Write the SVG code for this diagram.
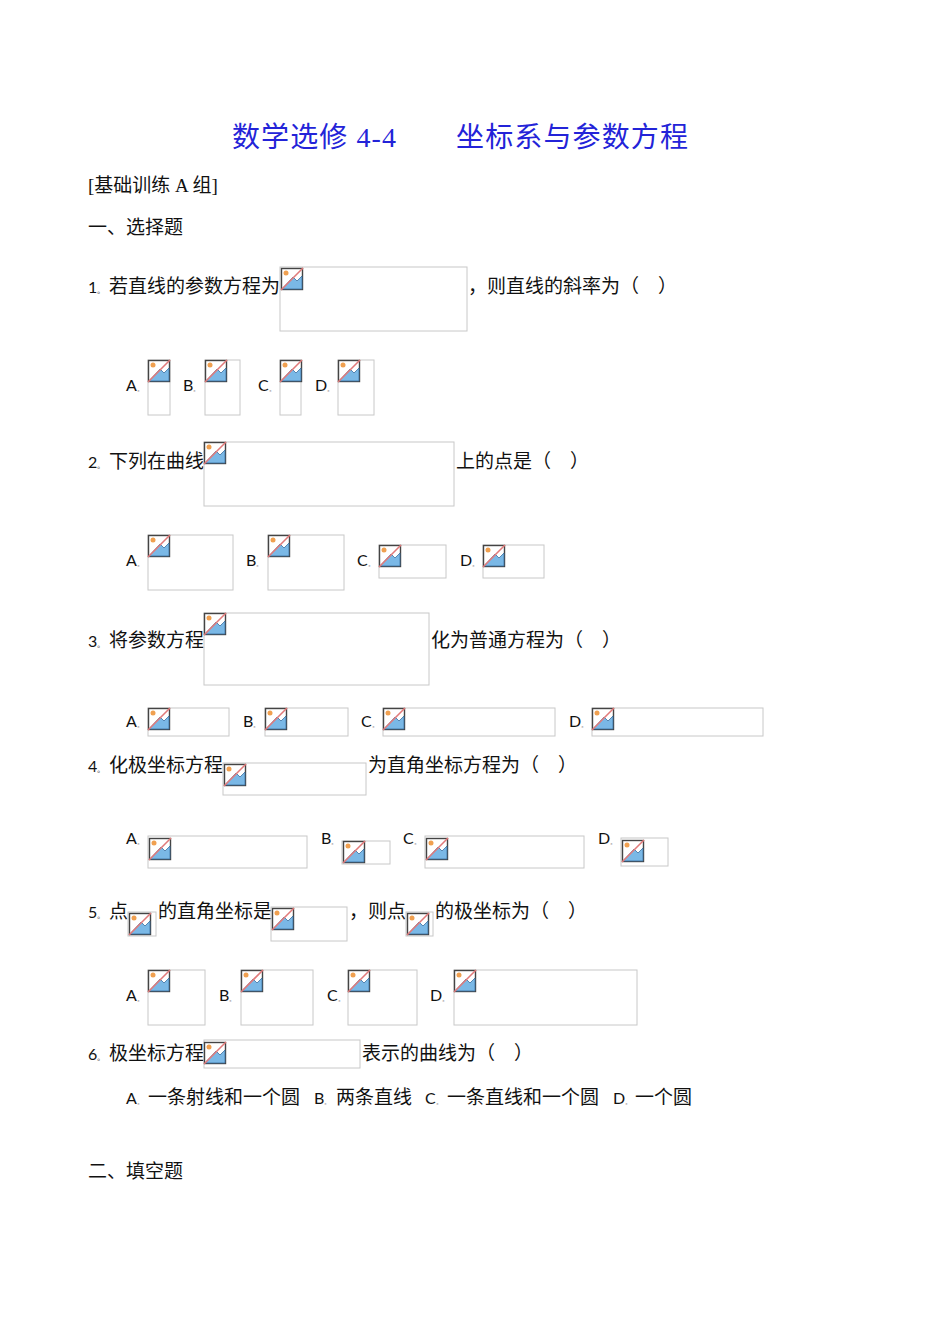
<svg xmlns="http://www.w3.org/2000/svg" width="950" height="1342" viewBox="0 0 950 1342">
<style>
.t{font-family:"Liberation Serif","Noto Sans CJK SC",serif;font-size:19px;fill:#111}
.l{font-family:Lato,"Liberation Sans",sans-serif;font-size:16px;fill:#111}
.s{font-size:7px}
.b{fill:none;stroke:#c8c8c8;stroke-width:1}
.h{font-family:"Liberation Serif","Noto Sans CJK SC",serif;font-size:28px;fill:#2323d8}
</style>
<defs>
<symbol id="ic" viewBox="0 0 22 22" overflow="visible">
<rect x="0.5" y="0.5" width="21" height="21" fill="#fff" stroke="#444" stroke-width="1.4"/>
<path d="M1 21 L12 9 L16 13 L21 8 L21 21 Z" fill="#7ab8e6" stroke="#3a6fa0" stroke-width="0.8"/>
<circle cx="5" cy="5" r="2.5" fill="#f0a050"/>
<line x1="0" y1="22" x2="22" y2="0" stroke="#e07a7a" stroke-width="1.6"/>
</symbol>
</defs>
<rect width="950" height="1342" fill="#fff"/>
<g id="title">
<text class="h" x="232" y="147" textLength="164">数学选修 4-4</text>
<text class="h" x="456" y="147" textLength="232">坐标系与参数方程</text>
</g>
<text class="t" x="88" y="192">[基础训练 A 组]</text>
<text class="t" x="88" y="234">一、选择题</text>

<g id="q1">
<text class="t" x="88" y="293"><tspan class="l">1</tspan><tspan class="s">。</tspan> 若直线的参数方程为</text>
<rect class="b" x="280" y="267" width="187" height="64"/><use href="#ic" x="281" y="268" width="22" height="22"/>
<text class="t" x="468" y="293">，则直线的斜率为（　）</text>
<text class="l" x="126" y="391">A<tspan class="s">。</tspan></text><rect class="b" x="148" y="360" width="22" height="55"/><use href="#ic" x="148" y="360" width="22" height="22"/>
<text class="l" x="183" y="391">B<tspan class="s">。</tspan></text><rect class="b" x="205" y="360" width="35" height="55"/><use href="#ic" x="205" y="360" width="22" height="22"/>
<text class="l" x="258" y="391">C<tspan class="s">。</tspan></text><rect class="b" x="280" y="360" width="21" height="55"/><use href="#ic" x="280" y="360" width="22" height="22"/>
<text class="l" x="315" y="391">D<tspan class="s">。</tspan></text><rect class="b" x="338" y="360" width="36" height="55"/><use href="#ic" x="338" y="360" width="22" height="22"/>
</g>

<g id="q2">
<text class="t" x="88" y="468"><tspan class="l">2</tspan><tspan class="s">。</tspan> 下列在曲线</text>
<rect class="b" x="204" y="442" width="250" height="64"/><use href="#ic" x="204" y="442" width="22" height="22"/>
<text class="t" x="456" y="468">上的点是（　）</text>
<text class="l" x="126" y="566">A<tspan class="s">。</tspan></text><rect class="b" x="148" y="535" width="85" height="55"/><use href="#ic" x="148" y="535" width="22" height="22"/>
<text class="l" x="246" y="566">B<tspan class="s">。</tspan></text><rect class="b" x="268" y="535" width="76" height="55"/><use href="#ic" x="268" y="535" width="22" height="22"/>
<text class="l" x="357" y="566">C<tspan class="s">。</tspan></text><rect class="b" x="379" y="545" width="67" height="33"/><use href="#ic" x="379" y="545" width="22" height="22"/>
<text class="l" x="460" y="566">D<tspan class="s">。</tspan></text><rect class="b" x="483" y="545" width="61" height="33"/><use href="#ic" x="483" y="545" width="22" height="22"/>
</g>

<g id="q3">
<text class="t" x="88" y="647"><tspan class="l">3</tspan><tspan class="s">。</tspan> 将参数方程</text>
<rect class="b" x="204" y="613" width="225" height="72"/><use href="#ic" x="204" y="613" width="22" height="22"/>
<text class="t" x="431" y="647">化为普通方程为（　）</text>
<text class="l" x="126" y="727">A<tspan class="s">。</tspan></text><rect class="b" x="148" y="708" width="81" height="28"/><use href="#ic" x="148" y="708" width="22" height="22"/>
<text class="l" x="243" y="727">B<tspan class="s">。</tspan></text><rect class="b" x="265" y="708" width="83" height="28"/><use href="#ic" x="265" y="708" width="22" height="22"/>
<text class="l" x="361" y="727">C<tspan class="s">。</tspan></text><rect class="b" x="383" y="708" width="172" height="28"/><use href="#ic" x="383" y="708" width="22" height="22"/>
<text class="l" x="569" y="727">D<tspan class="s">。</tspan></text><rect class="b" x="592" y="708" width="171" height="28"/><use href="#ic" x="592" y="708" width="22" height="22"/>
</g>

<g id="q4">
<text class="t" x="88" y="772"><tspan class="l">4</tspan><tspan class="s">。</tspan> 化极坐标方程</text>
<rect class="b" x="223" y="763" width="143" height="32"/><use href="#ic" x="224" y="764" width="22" height="22"/>
<text class="t" x="368" y="772">为直角坐标方程为（　）</text>
<text class="l" x="126" y="844">A<tspan class="s">。</tspan></text><rect class="b" x="148" y="836" width="159" height="32"/><use href="#ic" x="149" y="838" width="22" height="22"/>
<text class="l" x="321" y="844">B<tspan class="s">。</tspan></text><rect class="b" x="342" y="841" width="48" height="23"/><use href="#ic" x="343" y="841" width="22" height="22"/>
<text class="l" x="403" y="844">C<tspan class="s">。</tspan></text><rect class="b" x="425" y="836" width="159" height="32"/><use href="#ic" x="426" y="838" width="22" height="22"/>
<text class="l" x="598" y="844">D<tspan class="s">。</tspan></text><rect class="b" x="621" y="838" width="47" height="28"/><use href="#ic" x="622" y="840" width="22" height="22"/>
</g>

<g id="q5">
<text class="t" x="88" y="918"><tspan class="l">5</tspan><tspan class="s">。</tspan> 点</text>
<rect class="b" x="128" y="912" width="28" height="24"/><use href="#ic" x="129" y="913" width="22" height="22"/>
<text class="t" x="158" y="918">的直角坐标是</text>
<rect class="b" x="271" y="907" width="76" height="34"/><use href="#ic" x="272" y="908" width="22" height="22"/>
<text class="t" x="349" y="918">，则点</text>
<rect class="b" x="406" y="912" width="27" height="24"/><use href="#ic" x="407" y="913" width="22" height="22"/>
<text class="t" x="435" y="918">的极坐标为（　）</text>
<text class="l" x="126" y="1001">A<tspan class="s">。</tspan></text><rect class="b" x="148" y="970" width="57" height="55"/><use href="#ic" x="148" y="970" width="22" height="22"/>
<text class="l" x="219" y="1001">B<tspan class="s">。</tspan></text><rect class="b" x="241" y="970" width="72" height="55"/><use href="#ic" x="241" y="970" width="22" height="22"/>
<text class="l" x="327" y="1001">C<tspan class="s">。</tspan></text><rect class="b" x="348" y="970" width="69" height="55"/><use href="#ic" x="348" y="970" width="22" height="22"/>
<text class="l" x="430" y="1001">D<tspan class="s">。</tspan></text><rect class="b" x="454" y="970" width="183" height="55"/><use href="#ic" x="454" y="970" width="22" height="22"/>
</g>

<g id="q6">
<text class="t" x="88" y="1060"><tspan class="l">6</tspan><tspan class="s">。</tspan> 极坐标方程</text>
<rect class="b" x="204" y="1040" width="156" height="28"/><use href="#ic" x="204" y="1042" width="22" height="22"/>
<text class="t" x="362" y="1060">表示的曲线为（　）</text>
<text class="l" x="126" y="1104">A<tspan class="s">。</tspan></text><text class="t" x="148" y="1104">一条射线和一个圆</text>
<text class="l" x="314" y="1104">B<tspan class="s">。</tspan></text><text class="t" x="336" y="1104">两条直线</text>
<text class="l" x="425" y="1104">C<tspan class="s">。</tspan></text><text class="t" x="447" y="1104">一条直线和一个圆</text>
<text class="l" x="613" y="1104">D<tspan class="s">。</tspan></text><text class="t" x="635" y="1104">一个圆</text>
</g>
<text class="t" x="88" y="1178">二、填空题</text>
</svg>
